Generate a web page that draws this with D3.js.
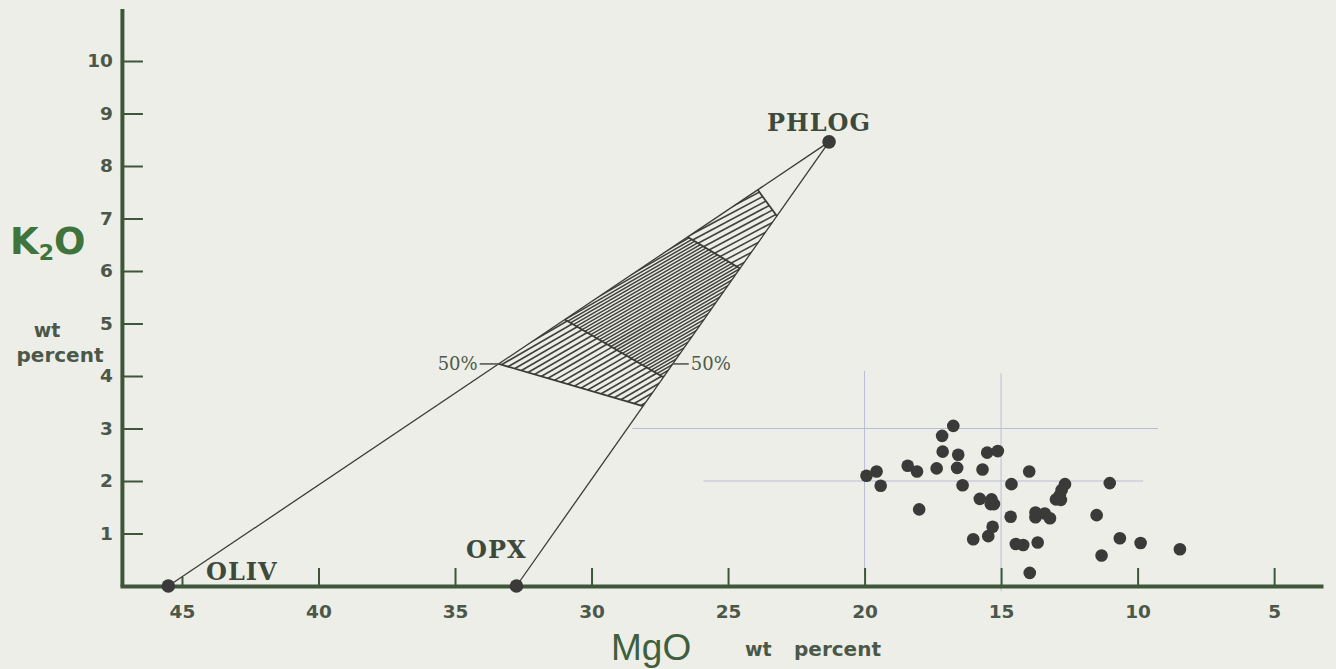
<!DOCTYPE html>
<html>
<head>
<meta charset="utf-8">
<script src="https://cdn.jsdelivr.net/npm/d3@7"></script>
<style>
body { margin: 0; background: #eeeee8; }
svg { display: block; }
</style>
</head>
<body>
<div id="chart"></div>
<script>
// end members, MgO and K2O in wt percent
var endNames = ["OLIV", "OPX", "PHLOG"];
var endMgO = [45.5, 32.75, 21.3];
var endK2O = [0, 0, 8.46];

// limits of the hatched bands, as fraction of the way to PHLOG on each tie line
var bandOliv = [0.50, 0.60, 0.786, 0.892];
var bandOpx = [0.405, 0.47, 0.715, 0.833];

// analysed samples
var sampleMgO = [16.75, 17.16, 17.14, 16.57, 15.51, 15.12, 18.42, 18.08, 17.36, 16.61,
    15.68, 13.97, 19.93, 19.56, 19.41, 16.41, 14.62, 15.78, 15.35, 15.38,
    15.26, 18.00, 14.65, 13.74, 13.74, 13.40, 13.21, 15.31, 15.47, 16.02,
    14.46, 14.19, 13.66, 13.95, 12.66, 12.78, 12.85, 12.99, 12.81, 11.02,
    11.50, 11.32, 10.65, 9.89, 8.45];
var sampleK2O = [3.05, 2.86, 2.56, 2.50, 2.54, 2.57, 2.29, 2.18, 2.24, 2.25,
    2.22, 2.18, 2.10, 2.18, 1.91, 1.92, 1.94, 1.66, 1.65, 1.56,
    1.56, 1.46, 1.32, 1.40, 1.31, 1.38, 1.29, 1.13, 0.95, 0.89,
    0.80, 0.78, 0.83, 0.25, 1.94, 1.83, 1.73, 1.65, 1.64, 1.96,
    1.35, 0.58, 0.91, 0.82, 0.70];

var xTicks = [45, 40, 35, 30, 25, 20, 15, 10, 5];
var yTicks = [1, 2, 3, 4, 5, 6, 7, 8, 9, 10];

// faint guide lines left on the original sheet
var guideVMgO = [20, 15];
var guideVFrom = [0.2, -0.1];
var guideVTo = [4.1, 4.05];
var guideHK2O = [3, 2];
var guideHFrom = [28.5, 25.9];
var guideHTo = [9.25, 9.8];

var width = 1336, height = 669;
var axisColor = "#3e573b";
var inkColor = "#3a3a38";

var svg = d3.select("#chart")
    .append("svg")
    .attr("width", width)
    .attr("height", height);

var x = d3.scaleLinear().domain([47.27, 3.21]).range([120, 1323]);
var y = d3.scaleLinear().domain([0, 11]).range([586, 8.5]);

// guide lines
var guides = svg.append("g").attr("stroke", "#b9bcd6").attr("stroke-width", 1);
guideVMgO.forEach(function(m, i) {
    guides.append("line")
        .attr("x1", x(m)).attr("x2", x(m))
        .attr("y1", y(guideVFrom[i])).attr("y2", y(guideVTo[i]));
});
guideHK2O.forEach(function(k, i) {
    guides.append("line")
        .attr("x1", x(guideHFrom[i])).attr("x2", x(guideHTo[i]))
        .attr("y1", y(k)).attr("y2", y(k));
});

// x-axis
var xAxis = d3.axisBottom(x).tickValues(xTicks).tickSizeInner(-18).tickSizeOuter(0).tickPadding(19);
var gX = svg.append("g")
    .attr("transform", "translate(0," + y(0) + ")")
    .call(xAxis);
gX.select(".domain").attr("stroke", axisColor).attr("stroke-width", 4);
gX.selectAll(".tick line").attr("stroke", axisColor).attr("stroke-width", 2);
gX.selectAll(".tick").filter(function(d) { return d == 45; }).select("line").attr("y2", -9);
gX.selectAll(".tick text")
    .attr("fill", "#4b5849")
    .style("font-family", "DejaVu Sans")
    .style("font-weight", "bold")
    .style("font-size", "18.5px");

// y-axis
var yAxis = d3.axisLeft(y).tickValues(yTicks).tickSizeInner(-21).tickSizeOuter(0).tickPadding(9);
var gY = svg.append("g")
    .attr("transform", "translate(" + x(47.2) + ",0)")
    .call(yAxis);
gY.select(".domain").attr("stroke", axisColor).attr("stroke-width", 4);
gY.selectAll(".tick line").attr("stroke", axisColor).attr("stroke-width", 2);
gY.selectAll(".tick text")
    .attr("fill", "#4b5849")
    .style("font-family", "DejaVu Sans")
    .style("font-weight", "bold")
    .style("font-size", "18.5px");

// point on a tie line, k = 0 for OLIV, 1 for OPX
function along(k, f) {
    var m = endMgO[k] + f * (endMgO[2] - endMgO[k]);
    var v = endK2O[k] + f * (endK2O[2] - endK2O[k]);
    return [x(m), y(v)];
}

// hatched bands
var bandAngle = [30, 30, 28];
var bandGap = [5, 2.9, 5.5];
var bandStroke = [1.7, 1.5, 1.6];
var defs = svg.append("defs");
for (var i = 0; i < 3; i++) {
    var poly = [along(0, bandOliv[i]), along(1, bandOpx[i]), along(1, bandOpx[i + 1]), along(0, bandOliv[i + 1])];
    defs.append("clipPath").attr("id", "band" + i)
        .append("polygon")
        .attr("points", poly.map(function(p) { return p.join(","); }).join(" "));

    var a = bandAngle[i] * Math.PI / 180;
    var u = [Math.cos(a), -Math.sin(a)];
    var n = [Math.sin(a), Math.cos(a)];
    var offs = poly.map(function(p) { return p[0] * n[0] + p[1] * n[1]; });
    var runs = poly.map(function(p) { return p[0] * u[0] + p[1] * u[1]; });
    var tMin = d3.min(runs) - 5, tMax = d3.max(runs) + 5;
    var hatch = d3.range(d3.min(offs) + bandGap[i] / 2, d3.max(offs), bandGap[i]);

    svg.append("g")
        .attr("clip-path", "url(#band" + i + ")")
        .selectAll("line")
        .data(hatch)
        .enter().append("line")
        .attr("x1", function(o) { return o * n[0] + tMin * u[0]; })
        .attr("y1", function(o) { return o * n[1] + tMin * u[1]; })
        .attr("x2", function(o) { return o * n[0] + tMax * u[0]; })
        .attr("y2", function(o) { return o * n[1] + tMax * u[1]; })
        .attr("stroke", "#42423f")
        .attr("stroke-width", bandStroke[i]);
}

// band edges
bandOliv.forEach(function(f, i) {
    var p = along(0, f), q = along(1, bandOpx[i]);
    svg.append("line")
        .attr("x1", p[0]).attr("y1", p[1])
        .attr("x2", q[0]).attr("y2", q[1])
        .attr("stroke", "#3a3a38")
        .attr("stroke-width", 1.8);
});

// tie lines to PHLOG
[0, 1].forEach(function(k) {
    svg.append("line")
        .attr("x1", x(endMgO[k])).attr("y1", y(endK2O[k]))
        .attr("x2", x(endMgO[2])).attr("y2", y(endK2O[2]))
        .attr("stroke", inkColor)
        .attr("stroke-width", 1.3);
});

// 50% marks
var half0 = along(0, 0.5), half1 = along(1, 0.5);
svg.append("line").attr("x1", half0[0] - 19).attr("x2", half0[0]).attr("y1", half0[1]).attr("y2", half0[1])
    .attr("stroke", "#555a52").attr("stroke-width", 1.6);
svg.append("line").attr("x1", half1[0]).attr("x2", half1[0] + 16).attr("y1", half1[1]).attr("y2", half1[1])
    .attr("stroke", "#555a52").attr("stroke-width", 1.6);
svg.append("text").attr("x", half0[0] - 21).attr("y", half0[1] + 6)
    .attr("text-anchor", "end").attr("fill", "#4d5a4a")
    .style("font-family", "DejaVu Serif").style("font-size", "18px")
    .text("50%");
svg.append("text").attr("x", half1[0] + 18).attr("y", half1[1] + 6)
    .attr("fill", "#4d5a4a")
    .style("font-family", "DejaVu Serif").style("font-size", "18px")
    .text("50%");

// end member dots and names
svg.selectAll(".end")
    .data(endMgO)
    .enter().append("circle")
    .attr("class", "end")
    .attr("cx", function(d) { return x(d); })
    .attr("cy", function(d, i) { return y(endK2O[i]); })
    .attr("r", 6.8)
    .style("fill", inkColor);

var nameX = [206, 466, 767];
var nameY = [580, 558, 131];
svg.selectAll(".endname")
    .data(endNames)
    .enter().append("text")
    .attr("class", "endname")
    .attr("x", function(d, i) { return nameX[i]; })
    .attr("y", function(d, i) { return nameY[i]; })
    .attr("fill", "#3d4a3b")
    .style("font-family", "DejaVu Serif")
    .style("font-weight", "bold")
    .style("font-size", "24px")
    .style("letter-spacing", "1px")
    .text(function(d) { return d; });

// samples
svg.selectAll(".dot")
    .data(sampleMgO)
    .enter().append("circle")
    .attr("class", "dot")
    .attr("cx", function(d) { return x(d); })
    .attr("cy", function(d, i) { return y(sampleK2O[i]); })
    .attr("r", 6.3)
    .style("fill", inkColor);

// axis titles
var k2o = svg.append("text")
    .attr("x", 10).attr("y", 254)
    .attr("fill", "#3f743d")
    .style("font-family", "DejaVu Sans")
    .style("font-weight", "bold")
    .style("font-size", "37px");
k2o.append("tspan").text("K");
k2o.append("tspan").attr("dy", 6).style("font-size", "22px").text("2");
k2o.append("tspan").attr("dy", -6).text("O");

svg.append("text").attr("x", 47).attr("y", 337)
    .attr("text-anchor", "middle").attr("fill", "#4b5849")
    .style("font-family", "DejaVu Sans").style("font-weight", "bold").style("font-size", "19px")
    .text("wt");
svg.append("text").attr("x", 60).attr("y", 362)
    .attr("text-anchor", "middle").attr("fill", "#4b5849")
    .style("font-family", "DejaVu Sans").style("font-weight", "bold").style("font-size", "20px")
    .text("percent");

svg.append("text").attr("x", 611).attr("y", 660)
    .attr("fill", "#3f5e3d")
    .style("font-family", "Liberation Sans").style("font-size", "37px")
    .text("MgO");
svg.append("text").attr("x", 745).attr("y", 656)
    .attr("fill", "#4b5849")
    .style("font-family", "DejaVu Sans").style("font-weight", "bold").style("font-size", "19px")
    .text("wt");
svg.append("text").attr("x", 794).attr("y", 656)
    .attr("fill", "#4b5849")
    .style("font-family", "DejaVu Sans").style("font-weight", "bold").style("font-size", "20px")
    .text("percent");
</script>
</body>
</html>
